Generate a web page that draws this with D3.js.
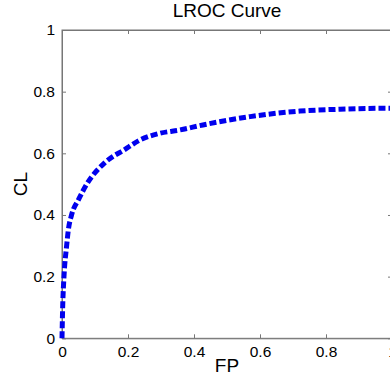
<!DOCTYPE html>
<html>
<head>
<meta charset="UTF-8">
<title>LROC Curve</title>
<script src="https://d3js.org/d3.v7.min.js"></script>
<style>
  body { margin: 0; background: #fff; }
  svg { display: block; font-family: "Liberation Sans", Arial, sans-serif; }
</style>
</head>
<body>
<svg></svg>
<script>
// Werte
const fp = [0, 0.002, 0.006, 0.014, 0.019, 0.029, 0.05, 0.075, 0.13, 0.191, 0.236, 0.297, 0.358, 0.427, 0.57, 0.721, 0.842, 0.979, 1];
const cl = [0, 0.1, 0.2, 0.3, 0.35, 0.4, 0.45, 0.5, 0.57, 0.613, 0.643, 0.665, 0.676, 0.692, 0.719, 0.737, 0.743, 0.746, 0.746];
const xTicks = [0, 0.2, 0.4, 0.6, 0.8, 1];
const yTicks = [0, 0.2, 0.4, 0.6, 0.8, 1];
const xTickLabels = ["0", "0.2", "0.4", "0.6", "0.8", "1"];
const yTickLabels = ["0", "0.2", "0.4", "0.6", "0.8", "1"];

const width = 390, height = 381;
// Plotbereich (rechter Rand liegt knapp ausserhalb des Bildes)
const plotLeft = 62, plotRight = 392, plotTop = 30, plotBottom = 338.3;

const svg = d3.select("svg")
  .attr("width", width)
  .attr("height", height);

const x = d3.scaleLinear().domain([0, 1]).range([plotLeft, plotRight]);
const y = d3.scaleLinear().domain([0, 1]).range([plotBottom, plotTop]);

const axisColor = "#777";
const tickFont = "15.5px";

// Kasten
svg.append("rect")
  .attr("x", plotLeft).attr("y", plotTop)
  .attr("width", plotRight - plotLeft).attr("height", plotBottom - plotTop)
  .attr("fill", "none").attr("stroke", axisColor).attr("stroke-width", 1);

// Achsen, Ticks nach innen
const gx = svg.append("g").attr("transform", `translate(0,${plotBottom})`)
  .call(d3.axisBottom(x).tickValues(xTicks).tickSizeInner(-4).tickSizeOuter(0)
    .tickPadding(8).tickFormat((d, i) => xTickLabels[i]));
const gxTop = svg.append("g").attr("transform", `translate(0,${plotTop})`)
  .call(d3.axisTop(x).tickValues(xTicks).tickSizeInner(-4).tickSizeOuter(0).tickFormat(""));
const gy = svg.append("g").attr("transform", `translate(${plotLeft},0)`)
  .call(d3.axisLeft(y).tickValues(yTicks).tickSizeInner(-4).tickSizeOuter(0)
    .tickPadding(7).tickFormat((d, i) => yTickLabels[i]));
const gyRight = svg.append("g").attr("transform", `translate(${plotRight},0)`)
  .call(d3.axisRight(y).tickValues(yTicks).tickSizeInner(-4).tickSizeOuter(0).tickFormat(""));

[gx, gxTop, gy, gyRight].forEach(g => {
  g.select(".domain").attr("stroke", axisColor);
  g.selectAll(".tick line").attr("stroke", axisColor);
  g.selectAll(".tick text")
    .attr("fill", "#000")
    .attr("font-size", tickFont)
    .attr("font-family", "Liberation Sans, Arial, sans-serif");
});

// Kurve
const points = fp.map((d, i) => [d, cl[i]]);
svg.append("path")
  .datum(points)
  .attr("fill", "none")
  .attr("stroke", "#0000ee")
  .attr("stroke-width", 5)
  .attr("stroke-dasharray", "7,3")
  .attr("d", d3.line()
    .x(d => x(d[0]))
    .y(d => y(d[1]))
    .curve(d3.curveMonotoneX));

// Titel und Achsenbeschriftungen
svg.append("text")
  .attr("x", (plotLeft + plotRight) / 2).attr("y", 16.5)
  .attr("text-anchor", "middle")
  .attr("font-size", "19px")
  .text("LROC Curve");

svg.append("text")
  .attr("x", (plotLeft + plotRight) / 2).attr("y", 372)
  .attr("text-anchor", "middle")
  .attr("font-size", "19px")
  .text("FP");

svg.append("text")
  .attr("transform", `translate(27,${(plotTop + plotBottom) / 2}) rotate(-90)`)
  .attr("text-anchor", "middle")
  .attr("font-size", "19px")
  .text("CL");
</script>
</body>
</html>
